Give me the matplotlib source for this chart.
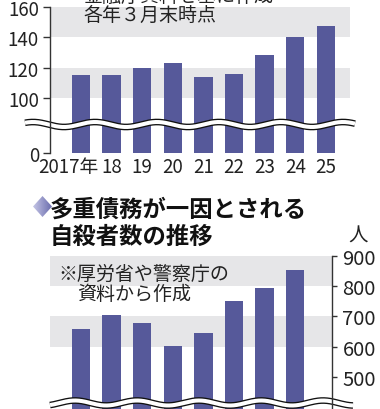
import numpy as np
import matplotlib
matplotlib.use("Agg")
import matplotlib.pyplot as plt
from matplotlib.lines import Line2D
from matplotlib.patches import Polygon
from matplotlib.transforms import ScaledTranslation
from matplotlib.colors import LinearSegmentedColormap

# ---- data ----
years = ["2017年", "18", "19", "20", "21", "22", "23", "24", "25"]
top_values = [115, 115, 120, 123, 114, 116, 128, 140, 147]
top_ticks = [0, 100, 120, 140, 160]
bottom_values = [657, 704, 680, 601, 646, 752, 794, 855]
bottom_ticks = [500, 600, 700, 800, 900]

W, H = 380, 410
BAR = "#56599a"
BAND = "#e6e6e8"
TXT = "#222222"
NUM = ["Liberation Sans Narrow", "Noto Sans CJK JP", "DejaVu Sans"]
CJK = ["Noto Sans CJK JP", "DejaVu Sans"]

fig = plt.figure(figsize=(W / 100, H / 100), dpi=100)
fig.patch.set_facecolor("white")


def fx(px):
    return px / W


def fy(py):
    return 1 - py / H


def wave(ax, y0, x_start, x_end, peak_x, z=2.2):
    xs = np.linspace(x_start, x_end, 400)
    ys = y0 - 2.5 * np.cos(2 * np.pi * (xs - peak_x) / 62.0)
    for lw, c in ((4.8, "#111111"), (2.9, "white")):
        ln = Line2D(fx(xs), fy(ys), transform=fig.transFigure, color=c,
                    lw=lw, solid_capstyle="butt", clip_on=False, zorder=z)
        ax.add_line(ln)


# ---- top chart (broken axis) ----
B = 83.0
S = 19.0 / 83.0


def fwd(v):
    v = np.asarray(v, float)
    return np.where(v < B, v * S, B * S + (v - B))


def inv(u):
    u = np.asarray(u, float)
    return np.where(u < B * S, u / S, u - B * S + B)


ax1 = fig.add_axes([fx(50), fy(154), fx(300), (154 - 7.5) / H])
ax1.set_yscale("function", functions=(fwd, inv))
x = np.arange(len(years))
ax1.bar(x, top_values, width=0.6, color=BAR, zorder=1.5)
for lo, hi in ((100, 120), (140, 160)):
    ax1.axhspan(lo, hi, color=BAND, zorder=0, lw=0)
ax1.set_xlim(-1.013, 8.79)
ax1.set_ylim(0, 160)
ax1.set_facecolor("none")
for s in ("top", "right", "bottom"):
    ax1.spines[s].set_visible(False)
ax1.spines["left"].set_color("#333333")
ax1.spines["left"].set_linewidth(1.0)
ax1.spines["left"].set_zorder(3)
ax1.set_yticks(top_ticks)
ax1.set_yticklabels([str(t) for t in top_ticks])
ax1.tick_params(axis="y", direction="out", length=5, width=1.0,
                color="#333333", pad=3, labelsize=13.5, labelcolor=TXT)
ax1.set_xticks(x)
ax1.set_xticklabels(years)
ax1.tick_params(axis="x", length=0, pad=2, labelsize=13.5, labelcolor=TXT)
for lab in ax1.get_xticklabels() + ax1.get_yticklabels():
    lab.set_family(NUM)
first = ax1.get_xticklabels()[0]
first.set_transform(first.get_transform() +
                    ScaledTranslation(-0.125, 0, fig.dpi_scale_trans))
wave(ax1, 125.5, 25, 355, 33)

fig.text(fx(83), fy(-4), "金融庁資料を基に作成", fontsize=13.7,
         family=CJK, color=TXT, va="center", ha="left")
fig.text(fx(83), fy(15), "各年３月末時点", fontsize=13.7,
         family=CJK, color=TXT, va="center", ha="left")

# ---- bottom chart ----
ax2 = fig.add_axes([fx(50), 0, fx(282), (410 - 257) / H])
xb = np.arange(len(bottom_values))
ax2.bar(xb, bottom_values, width=0.6, color=BAR, zorder=1.5)
for lo, hi in ((600, 700), (800, 900)):
    ax2.axhspan(lo, hi, color=BAND, zorder=0, lw=0)
ax2.set_xlim(-1.013, 8.2)
ax2.set_ylim(394, 900)
ax2.set_facecolor("none")
for s in ("top", "left", "bottom"):
    ax2.spines[s].set_visible(False)
ax2.spines["right"].set_color("#333333")
ax2.spines["right"].set_linewidth(1.0)
ax2.spines["right"].set_zorder(3)
ax2.yaxis.tick_right()
ax2.set_yticks(bottom_ticks)
ax2.set_yticklabels([str(t) for t in bottom_ticks])
ax2.tick_params(axis="y", direction="out", length=3.5, width=1.0,
                color="#333333", pad=4, labelsize=14.5, labelcolor=TXT)
for lab in ax2.get_yticklabels():
    lab.set_family(NUM)
ax2.set_xticks([])
wave(ax2, 404, 50, 353, 75)

fig.text(fx(358), fy(236), "人", fontsize=14, family=CJK, color=TXT,
         va="center", ha="center")

# title with diamond
fig.text(fx(50), fy(210), "多重債務が一因とされる", fontsize=16.8,
         family=CJK, weight="bold", color="#111111", va="center", ha="left")
fig.text(fx(50), fy(237), "自殺者数の推移", fontsize=16.8,
         family=CJK, weight="bold", color="#111111", va="center", ha="left")

dax = fig.add_axes([fx(33), fy(218), fx(19), 21 / H])
dax.set_axis_off()
dax.set_xlim(0, 1)
dax.set_ylim(0, 1)
grad = np.linspace(0, 1, 64).reshape(1, -1)
cm = LinearSegmentedColormap.from_list("d", ["#c4c5e6", "#6b6dad"])
im = dax.imshow(grad, extent=(0, 1, 0, 1), cmap=cm, aspect="auto")
poly = Polygon([[0, 0.5], [0.5, 1], [1, 0.5], [0.5, 0]], closed=True,
               transform=dax.transData, facecolor="none", edgecolor="none")
dax.add_patch(poly)
im.set_clip_path(poly)

# notes in bottom chart
fig.text(fx(58), fy(274), "※厚労省や警察庁の", fontsize=13.7,
         family=CJK, color=TXT, va="center", ha="left")
fig.text(fx(77), fy(295), "資料から作成", fontsize=13.7,
         family=CJK, color=TXT, va="center", ha="left")

fig.savefig("out.png", dpi=100)
